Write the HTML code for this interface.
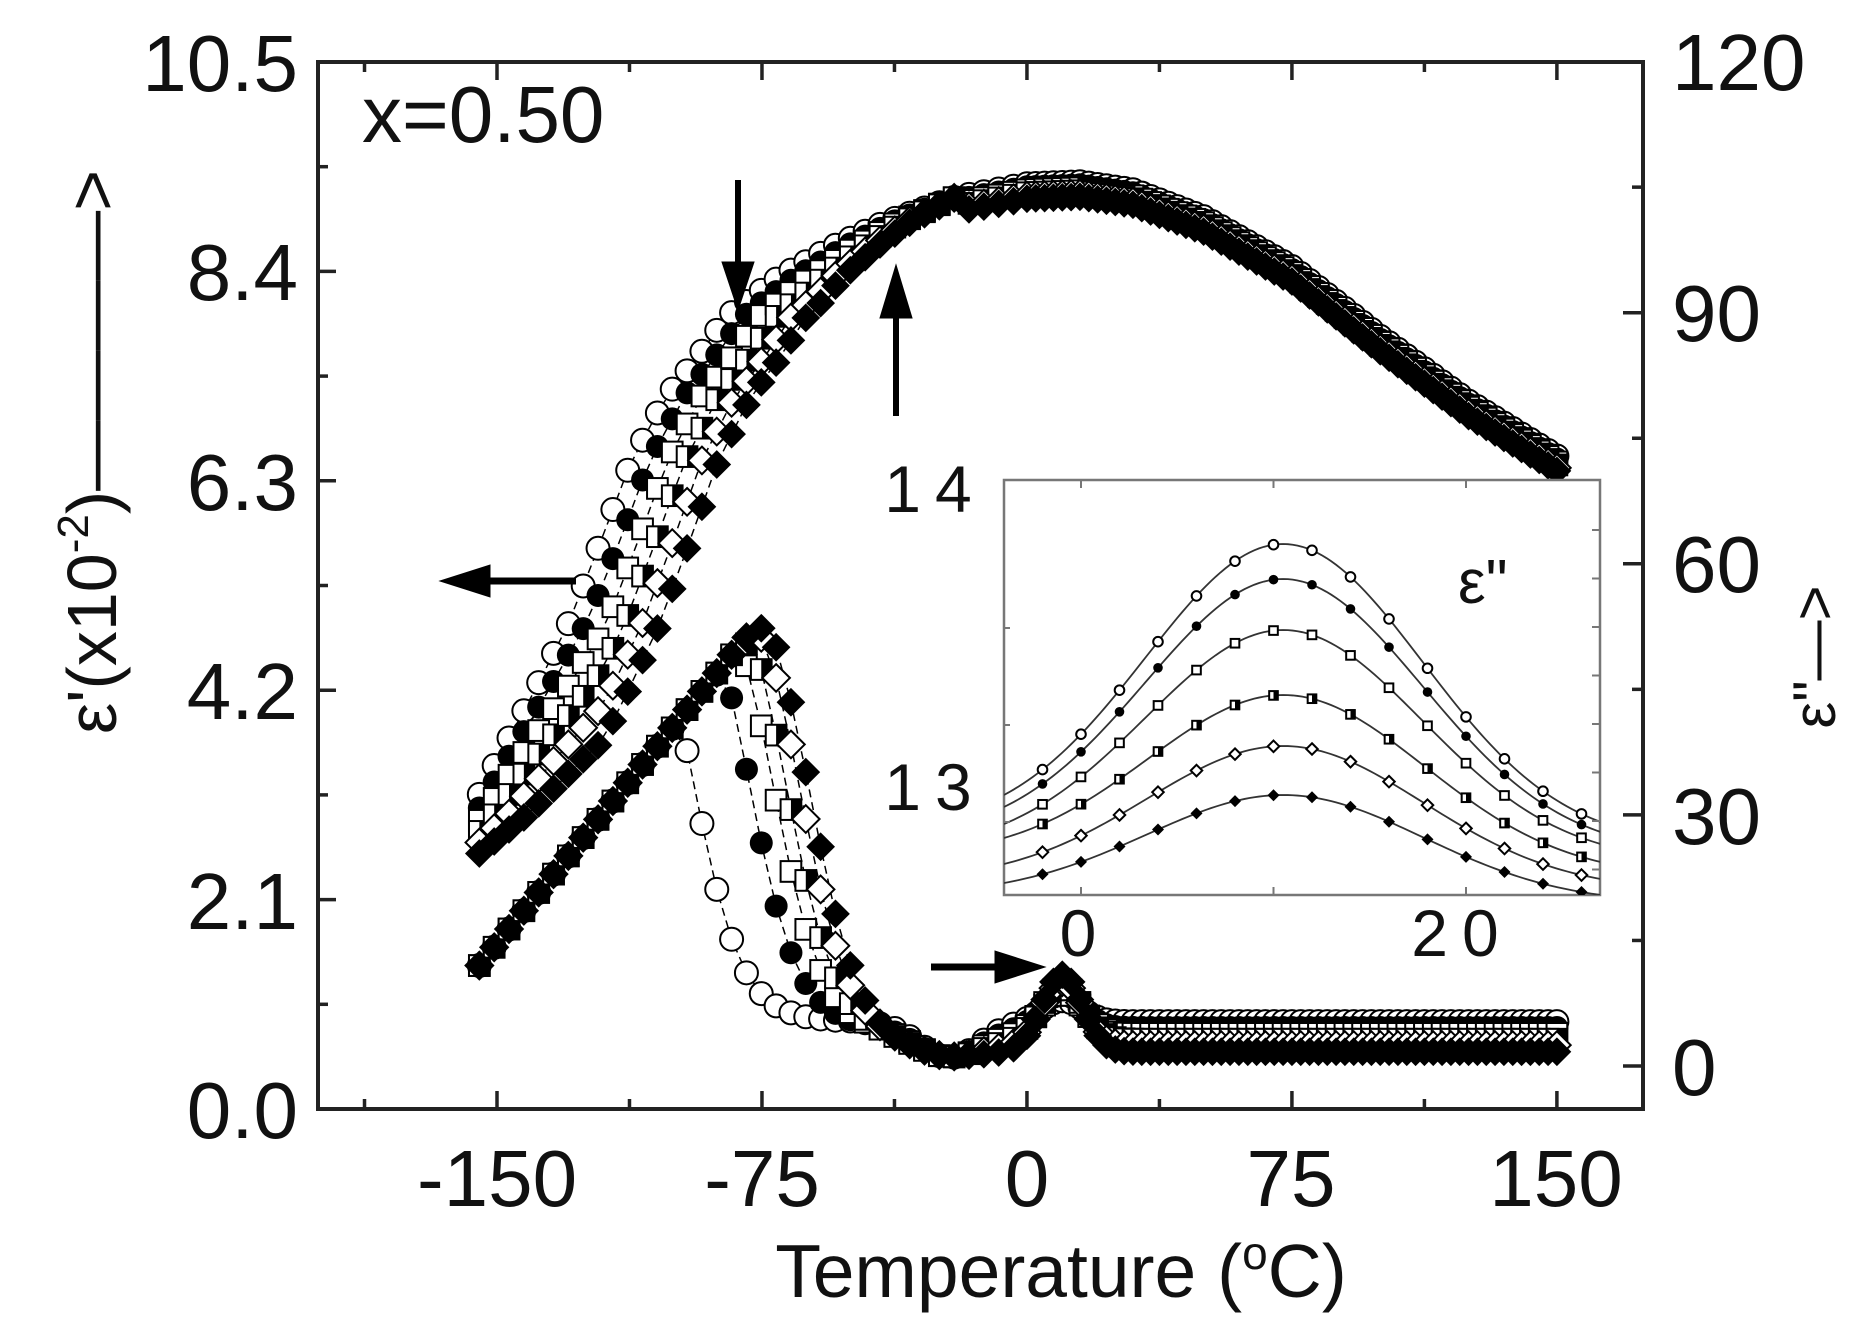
<!DOCTYPE html>
<html><head><meta charset="utf-8"><style>
html,body{margin:0;padding:0;background:#fff;}
svg{display:block;}
text{font-family:"Liberation Sans",sans-serif;fill:#111;}
</style></head><body>
<svg id="s" width="1872" height="1329" viewBox="0 0 1872 1329" xmlns="http://www.w3.org/2000/svg">
<rect width="1872" height="1329" fill="#fff"/>
<g id="data"></g>
<rect x="1004" y="480" width="596" height="415" fill="#fff" stroke="#777" stroke-width="2.5"/>
<g id="inset"></g>
<rect x="318" y="62" width="1325" height="1047" fill="none" stroke="#222" stroke-width="4"/>
<g id="ticks" stroke="#222" stroke-width="3.5"></g>
<g font-size="80">
<text x="298" y="91" text-anchor="end">10.5</text>
<text x="298" y="300" text-anchor="end">8.4</text>
<text x="298" y="510" text-anchor="end">6.3</text>
<text x="298" y="719" text-anchor="end">4.2</text>
<text x="298" y="929" text-anchor="end">2.1</text>
<text x="298" y="1138" text-anchor="end">0.0</text>
<text x="1672" y="90">120</text>
<text x="1672" y="341">90</text>
<text x="1672" y="592">60</text>
<text x="1672" y="844">30</text>
<text x="1672" y="1095">0</text>
<text x="497" y="1206" text-anchor="middle">-150</text>
<text x="762" y="1206" text-anchor="middle">-75</text>
<text x="1027" y="1206" text-anchor="middle">0</text>
<text x="1291" y="1206" text-anchor="middle">75</text>
<text x="1556" y="1206" text-anchor="middle">150</text>
<text x="1061" y="1297" text-anchor="middle" font-size="75">Temperature (<tspan font-size="46" dy="-28">o</tspan><tspan dy="28">C)</tspan></text>
<text x="362" y="142">x=0.50</text>
<text x="935" y="512" text-anchor="middle" letter-spacing="14" font-size="66">14</text>
<text x="935" y="810" text-anchor="middle" letter-spacing="14" font-size="66">13</text>
<text x="1078" y="956" text-anchor="middle" font-size="66">0</text>
<text x="1462" y="956" text-anchor="middle" font-size="66" letter-spacing="14">20</text>
<text x="1458" y="603" font-size="62">ε"</text>
<text transform="translate(116,452) rotate(-90)" text-anchor="middle" font-size="70">ε'(x10<tspan font-size="44" dy="-28">-2</tspan><tspan dy="28">)————&gt;</tspan></text>
<text transform="translate(1835,657) rotate(-90)" text-anchor="middle" font-size="60">ε"—&gt;</text>
</g>
<g fill="#000" stroke="#000">
<line x1="738" y1="180" x2="738" y2="270" stroke-width="6"/><polygon points="722,262 754,262 738,310"/>
<line x1="896" y1="416" x2="896" y2="310" stroke-width="6"/><polygon points="880,318 912,318 896,265"/>
<line x1="576" y1="581" x2="480" y2="581" stroke-width="7"/><polygon points="490,565 490,597 440,581"/>
<line x1="931" y1="967" x2="1000" y2="967" stroke-width="7"/><polygon points="995,951 995,983 1045,967"/>
</g>
</svg>
<script>
const NS="http://www.w3.org/2000/svg";
function X(T){return 497+(T+150)*3.533;}
function YL(v){return 1109-v*99.7;}
function YR(v){return 1066-v*8.37;}
function el(p,tag,a){const e=document.createElementNS(NS,tag);for(const k in a)e.setAttribute(k,a[k]);p.appendChild(e);return e;}
const tg=document.getElementById('ticks');
for(let T=-187.5;T<=175;T+=37.5){const maj=Math.abs((T/75)-Math.round(T/75))<1e-6;const L=maj?18:10;const x=X(T);if(x<320||x>1641)continue;
 el(tg,'line',{x1:x,y1:1109,x2:x,y2:1109-L});el(tg,'line',{x1:x,y1:62,x2:x,y2:62+L});}
for(let i=0;i<=10;i++){const y=1109-i*104.7;const L=i%2==0?18:10;el(tg,'line',{x1:318,y1:y,x2:318+L,y2:y});}
for(let v=-15;v<=120;v+=15){const y=YR(v);if(y<64||y>1107)continue;const L=(v%30==0)?20:11;el(tg,'line',{x1:1643,y1:y,x2:1643-L,y2:y});}
function interp(tab,t){if(t<=tab[0][0])return tab[0][1];for(let i=1;i<tab.length;i++){if(t<=tab[i][0]){const a=tab[i-1],b=tab[i];return a[1]+(b[1]-a[1])*(t-a[0])/(b[0]-a[0]);}}return tab[tab.length-1][1];}
const F=[[-200,1.3],[-175,2.0],[-158,2.95],[-150,3.5],[-140,4.15],[-130,4.85],[-120,5.75],[-112,6.5],[-102,7.15],[-94,7.5],[-85,7.95],[-70,8.35],[-55,8.65],[-40,8.9],[-20,9.15],[0,9.28],[15,9.3],[30,9.22],[50,8.95],[75,8.45],[100,7.75],[125,7.1],[150,6.55]];
const D=[[-160,1.5],[-120,5.4],[-60,4.5],[-20,0]];
function ep(T,k){let d=interp(D,T);return interp(F,T-k*d)-(T>-20?k*0.03:0);}
const Tc=[-95,-79,-72,-68,-64,-61],base=[5.3,4.6,3.9,3.2,2.5,1.7],bumpA=[2.5,4,5,6.5,7.5,9.2];
function smin(a,b,k){const h=Math.max(k-Math.abs(a-b),0)/k;return Math.min(a,b)-h*h*k/4;}
function epp(T,k){const rise=12+(T+155)*0.52;let b=base[k]-(base[k]-1)*Math.exp(-Math.pow((T+22)/12,2))+bumpA[k]*Math.exp(-Math.pow((T-10)/8,2));
 const fall=b+60/(1+Math.exp((T-Tc[k])/7));return smin(rise,fall,7);}
const dg=document.getElementById('data');
function marker(g,k,x,y,r){
 if(k==0)el(g,'circle',{cx:x,cy:y,r:r,fill:'#fff',stroke:'#000','stroke-width':2});
 else if(k==1)el(g,'circle',{cx:x,cy:y,r:r,fill:'#000'});
 else if(k==2)el(g,'rect',{x:x-r*0.9,y:y-r*0.9,width:r*1.8,height:r*1.8,fill:'#fff',stroke:'#000','stroke-width':2});
 else if(k==3){el(g,'rect',{x:x-r*0.9,y:y-r*0.9,width:r*1.8,height:r*1.8,fill:'#fff',stroke:'#000','stroke-width':2});el(g,'rect',{x:x,y:y-r*0.9,width:r*0.9,height:r*1.8,fill:'#000'});}
 else if(k==4)el(g,'polygon',{points:`${x},${y-r*1.2} ${x+r*1.2},${y} ${x},${y+r*1.2} ${x-r*1.2},${y}`,fill:'#fff',stroke:'#000','stroke-width':2});
 else el(g,'polygon',{points:`${x},${y-r*1.25} ${x+r*1.25},${y} ${x},${y+r*1.25} ${x-r*1.25},${y}`,fill:'#000'});
}
function temps(){const a=[];for(let T=-155;T<0;T+=4.2)a.push(T);for(let T=0;T<=150;T+=2.5)a.push(T);return a;}
const TT=temps();
for(let k=0;k<6;k++){
 const pts1=TT.map(T=>[X(T),YL(ep(T,k))]), pts2=TT.map(T=>[X(T),YR(epp(T,k))]);
 for(const pts of [pts1,pts2]){el(dg,'polyline',{points:pts.map(p=>p.join(',')).join(' '),fill:'none',stroke:'#000','stroke-width':1.5,'stroke-dasharray':'8,5'});}
}
for(let k=0;k<6;k++){const g=el(dg,'g',{});
 TT.forEach(T=>{marker(g,k,X(T),YL(ep(T,k)),11.5);marker(g,k,X(T),YR(epp(T,k)),11.5);});}
const ig=document.getElementById('inset');
const IX=u=>1081+u*19.25;
const peaks=[544,579,630,695,746,795],le=[795,807,824,838,864,883],re=[822,832,844,862,879,895];
const cp=el(ig,'clipPath',{id:'cl'});el(cp,'rect',{x:1004,y:480,width:596,height:415});
const gi=el(ig,'g',{'clip-path':'url(#cl)'});
for(let k=0;k<6;k++){
 const s=7.2;const g=u=>Math.exp(-Math.pow(u-10.5,2)/(2*s*s));
 const gl=g(-4),gr=g(27);
 function Y(u){const t=(u+4)/31;const e=le[k]+(re[k]-le[k])*t;const ge=gl+(gr-gl)*t;const bb=(peaks[k]-e)/(1-ge);return e+bb*(g(u)-ge);}
 const pts=[];for(let u=-4;u<=27.01;u+=0.25)pts.push([IX(u),Y(u)]);
 el(gi,'polyline',{points:pts.map(p=>p.join(',')).join(' '),fill:'none',stroke:'#333','stroke-width':1.8});
 for(let u=-2;u<=27;u+=2){marker(gi,k,IX(u),Y(u),4.8);}
}
for(let u=0;u<=20;u+=10){el(ig,'line',{x1:IX(u),y1:480,x2:IX(u),y2:488,stroke:'#777','stroke-width':2});el(ig,'line',{x1:IX(u),y1:895,x2:IX(u),y2:887,stroke:'#777','stroke-width':2});}
for(let y=530;y<890;y+=48.5){el(ig,'line',{x1:1600,y1:y,x2:1592,y2:y,stroke:'#777','stroke-width':2});}
for(let y=628;y<890;y+=97){el(ig,'line',{x1:1004,y1:y,x2:1010,y2:y,stroke:'#777','stroke-width':2});}
</script>
</body></html>
